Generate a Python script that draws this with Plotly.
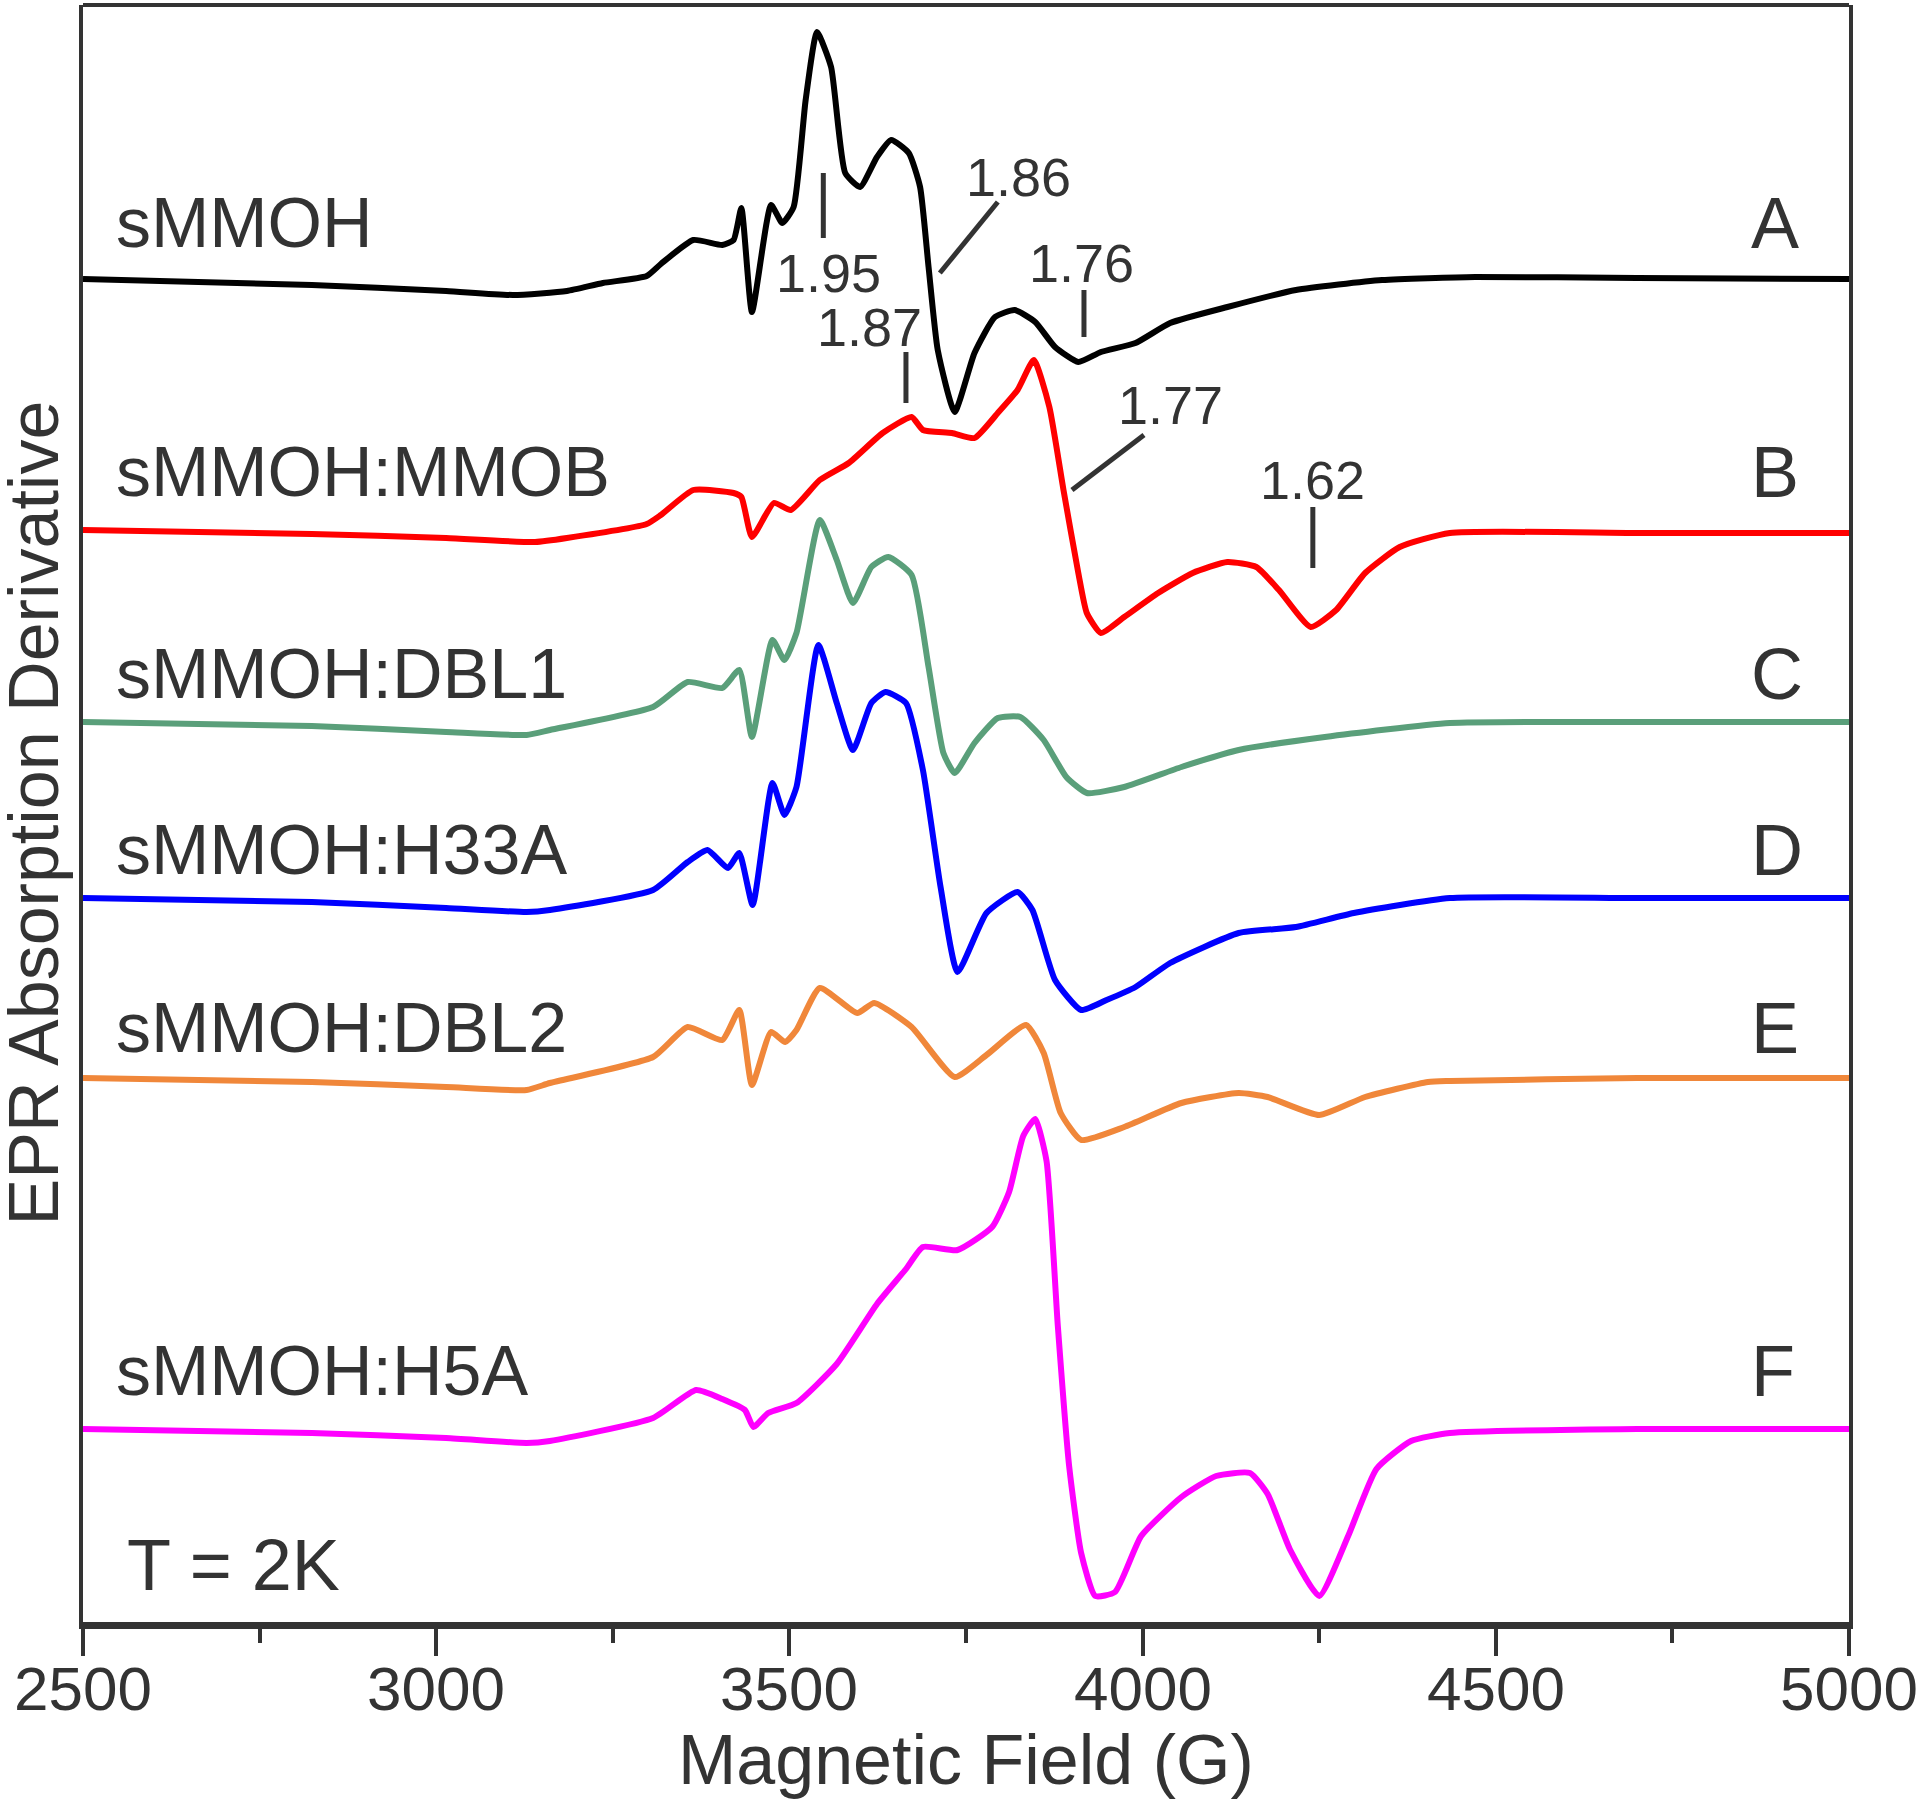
import plotly.graph_objects as go

# EPR spectra: field (G) and derivative signal (arb. units, 0 = baseline)
field_A = [2500, 2824, 3014, 3109, 3185, 3236, 3298, 3318, 3364, 3405, 3421, 3432, 3447, 3474, 3490, 3506,
           3523, 3539, 3559, 3579, 3600, 3624, 3644, 3669, 3685, 3697, 3710, 3734, 3762, 3791, 3819, 3848,
           3876, 3909, 3941, 3990, 4039, 4120, 4217, 4339, 4471, 4700, 5000]
sig_A = [0, -6, -12, -16, -12, -4, 3, 15, 39, 34, 39, 71, -33, 74, 56, 72,
         179, 247, 212, 106, 92, 122, 139, 126, 92, 12, -71, -133, -74, -38, -31, -43,
         -68, -83, -73, -64, -44, -28, -11, -1, 2, 1, 0]

field_B = [2500, 2824, 3014, 3140, 3185, 3298, 3318, 3364, 3421, 3432, 3447, 3478, 3502, 3543, 3584, 3632,
           3673, 3689, 3730, 3762, 3795, 3823, 3846, 3868, 3888, 3909, 3921, 3941, 3974, 4022, 4071, 4120,
           4161, 4193, 4238, 4274, 4315, 4364, 4435, 4700, 5000]
sig_B = [3, -1, -5, -9, -5, 9, 18, 43, 40, 36, -4, 30, 23, 53, 70, 100,
         116, 103, 100, 95, 120, 143, 173, 126, 43, -40, -80, -100, -84, -60, -40, -29,
         -34, -57, -94, -77, -40, -14, 0, 0, 0]

field_C = [2500, 2824, 3014, 3128, 3161, 3307, 3356, 3405, 3429, 3447, 3476, 3493, 3510, 3543, 3567, 3590,
           3616, 3640, 3673, 3697, 3718, 3734, 3762, 3795, 3827, 3860, 3892, 3921, 3974, 4055, 4136, 4258,
           4435, 4700, 5000]
sig_C = [0, -4, -10, -13, -8, 15, 40, 34, 52, -15, 82, 62, 89, 202, 162, 119,
         155, 165, 147, 55, -31, -51, -21, 4, 5, -18, -55, -71, -65, -45, -28, -15,
         -1, 0, 0]

field_D = [2500, 2824, 3014, 3128, 3161, 3307, 3356, 3384, 3413, 3429, 3448, 3476, 3493, 3510, 3541, 3567,
           3590, 3616, 3636, 3665, 3689, 3714, 3738, 3779, 3823, 3844, 3876, 3913, 3949, 3990, 4039, 4136,
           4217, 4299, 4435, 4700, 5000]
sig_D = [0, -4, -10, -14, -12, 8, 36, 48, 30, 45, -7, 115, 83, 111, 253, 195,
         148, 195, 206, 195, 128, 11, -74, -15, 6, -12, -82, -112, -102, -89, -65, -35,
         -29, -15, 0, 0, 0]

field_E = [2500, 2824, 3014, 3128, 3161, 3307, 3356, 3405, 3429, 3447, 3474, 3494, 3510, 3543, 3596, 3620,
           3673, 3734, 3779, 3835, 3860, 3884, 3913, 3974, 4055, 4136, 4177, 4250, 4315, 4404, 4435, 4700, 5000]
sig_E = [0, -4, -9, -12, -5, 21, 51, 38, 68, -7, 46, 36, 48, 90, 65, 75,
         51, 1, 23, 53, 25, -35, -62, -49, -25, -15, -19, -37, -19, -4, -3, 0, 0]

field_F = [2500, 2824, 3014, 3128, 3161, 3307, 3368, 3405, 3437, 3449, 3470, 3510, 3567, 3624, 3665, 3689,
           3738, 3787, 3811, 3831, 3848, 3864, 3880, 3896, 3913, 3933, 3961, 3998, 4055, 4104, 4152, 4177,
           4209, 4250, 4291, 4331, 4380, 4435, 4700, 5000]
sig_F = [0, -4, -9, -14, -12, 11, 39, 30, 19, 2, 16, 26, 65, 125, 160, 182,
         179, 202, 237, 293, 310, 268, 103, -37, -124, -167, -163, -107, -68, -47, -44, -65,
         -121, -167, -107, -40, -12, -4, 0, 0]

fields = [field_A, field_B, field_C, field_D, field_E, field_F]
signals = [sig_A, sig_B, sig_C, sig_D, sig_E, sig_F]
names = ["sMMOH", "sMMOH:MMOB", "sMMOH:DBL1", "sMMOH:H33A", "sMMOH:DBL2", "sMMOH:H5A"]
letters = ["A", "B", "C", "D", "E", "F"]
offsets = [1343, 1089, 900, 724, 544, 193]
label_y = [1399, 1150, 948, 772, 594, 251]
colors = ["#000000", "#ff0000", "#5a9f7a", "#0000ff", "#f0873a", "#ff00ff"]

# g-value markers: label, tick start (field, y), tick end (field, y), label position (field, y)
g_labels = ["1.95", "1.86", "1.76", "1.87", "1.77", "1.62"]
g_ticks = [(3548, 1449, 3548, 1384), (3713, 1349, 3795, 1420), (3917, 1332, 3917, 1285),
           (3665, 1270, 3665, 1219), (3900, 1132, 4002, 1187), (4241, 1115, 4241, 1054)]
g_text = [(3556, 1349), (3825, 1445), (3913, 1359), (3614, 1295), (4039, 1217), (4240, 1142)]

tick_vals = [2500, 3000, 3500, 4000, 4500, 5000]
minor_vals = [2750, 3250, 3750, 4250, 4750]

FONT = "Liberation Sans, Arial, sans-serif"
TXT = "#333333"

fig = go.Figure()
for f, s, off, c, n in zip(fields, signals, offsets, colors, names):
    fig.add_trace(go.Scatter(x=f, y=[v + off for v in s], mode="lines", name=n,
                             line=dict(color=c, width=6, shape="spline", smoothing=0.5)))

annotations = []
for n, ly in zip(names, label_y):
    annotations.append(dict(x=2544, y=ly, text=n, showarrow=False, xanchor="left", yanchor="middle",
                            font=dict(size=70, color=TXT)))
for l, ly in zip(letters, label_y):
    annotations.append(dict(x=4858, y=ly, text=l, showarrow=False, xanchor="left", yanchor="middle",
                            font=dict(size=72, color=TXT)))
for g, (gx, gy) in zip(g_labels, g_text):
    annotations.append(dict(x=gx, y=gy, text=g, showarrow=False, xanchor="center", yanchor="middle",
                            font=dict(size=54, color=TXT)))
annotations.append(dict(x=2559, y=57, text="T = 2K", showarrow=False, xanchor="left", yanchor="middle",
                        font=dict(size=72, color=TXT)))
# tick labels of the field axis
for v in tick_vals:
    annotations.append(dict(x=v, y=0, yref="paper", yshift=-66, text=str(v), showarrow=False,
                            xanchor="center", yanchor="middle", font=dict(size=62, color=TXT)))
annotations.append(dict(x=0.5, y=0, xref="paper", yref="paper", yshift=-138, text="Magnetic Field (G)",
                        showarrow=False, xanchor="center", yanchor="middle", font=dict(size=70, color=TXT)))
annotations.append(dict(x=0, y=0.5, xref="paper", yref="paper", xshift=-50, text="EPR Absorption Derivative",
                        textangle=-90, showarrow=False, xanchor="center", yanchor="middle",
                        font=dict(size=70, color=TXT)))

shapes = [dict(type="line", x0=x0, y0=y0, x1=x1, y1=y1, line=dict(color=TXT, width=5))
          for (x0, y0, x1, y1) in g_ticks]
shapes.append(dict(type="line", xref="paper", yref="paper", x0=0, x1=1, y0=1, y1=1,
                   line=dict(color=TXT, width=4)))

fig.update_layout(
    width=1920, height=1801,
    margin=dict(l=83, r=71, t=5, b=179, autoexpand=False),
    paper_bgcolor="white", plot_bgcolor="white",
    showlegend=False,
    font=dict(family=FONT, color=TXT),
    annotations=annotations,
    shapes=shapes,
    xaxis=dict(range=[2500, 5000], tickvals=tick_vals, showticklabels=False,
               ticks="outside", ticklen=27, tickwidth=4, tickcolor=TXT,
               minor=dict(tickvals=minor_vals, ticks="outside", ticklen=14,
                          tickwidth=4, tickcolor=TXT),
               showline=True, linewidth=7, linecolor=TXT, mirror=False, automargin=False,
               showgrid=False, zeroline=False),
    yaxis=dict(range=[0, 1617], showticklabels=False, ticks="", showline=True, linewidth=4,
               linecolor=TXT, mirror=True, showgrid=False, zeroline=False, automargin=False),
)

# drop the default page margin so the figure sits at the window's corner
fig.write_html("out.html", config={"displayModeBar": False},
               post_script="document.body.style.margin = '0px';")
